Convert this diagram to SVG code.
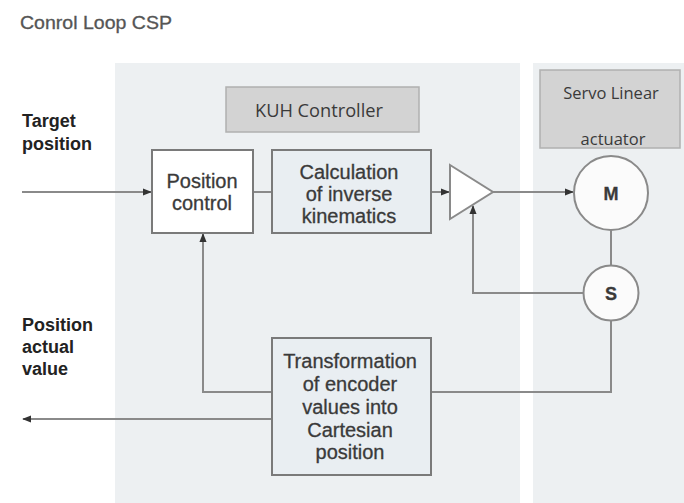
<svg xmlns="http://www.w3.org/2000/svg" width="684" height="503" viewBox="0 0 684 503">
<style>
.t{font-family:"Liberation Sans",Arial,sans-serif;fill:#3a3a3a;stroke:#3a3a3a;stroke-width:0.3}
.o{font-family:"Open Sans","Liberation Sans",sans-serif;fill:#3a3a3a}
.lbl{font-family:"Liberation Sans",Arial,sans-serif;font-weight:bold;font-size:18px;fill:#222}
.box{stroke:#7a7a7a;stroke-width:2}
.hdr{fill:#d3d3d3;stroke:#b0b0b0;stroke-width:1.5}
.ln{fill:none;stroke:#8a8a8a;stroke-width:2}
.c{fill:#fbfbfb;stroke:#8a8a8a;stroke-width:2}
</style>
<defs>
<marker id="ah" viewBox="0 0 10 10" refX="9" refY="5" markerWidth="4.5" markerHeight="4.5" orient="auto-start-reverse" markerUnits="strokeWidth">
<path d="M0,1 L10,5 L0,9 z" fill="#333"/>
</marker>
</defs>
<rect width="684" height="503" fill="#fff"/>
<text x="20" y="29" class="t" font-size="18" style="fill:#555;stroke:#555" textLength="152" lengthAdjust="spacingAndGlyphs">Conrol Loop CSP</text>
<g id="panels">
<rect x="115" y="63" width="405" height="440" fill="#edf0f2"/>
<rect x="533" y="63" width="151" height="440" fill="#edf0f2"/>
</g>
<g id="kuh">
<rect x="226" y="87" width="193" height="45" class="hdr"/>
<text x="255" y="117" class="o" font-size="18" textLength="128" lengthAdjust="spacingAndGlyphs">KUH Controller</text>
</g>
<g id="servo">
<rect x="540" y="70" width="140" height="78" class="hdr"/>
<text x="611" y="99" class="o" font-size="16.5" text-anchor="middle">Servo Linear</text>
<text x="613" y="145" class="o" font-size="16.5" text-anchor="middle">actuator</text>
</g>
<g id="labels">
<text class="lbl"><tspan x="22" y="127">Target</tspan><tspan x="22" y="150">position</tspan></text>
<text class="lbl"><tspan x="22" y="331">Position</tspan><tspan x="22" y="353">actual</tspan><tspan x="22" y="375">value</tspan></text>
</g>
<g id="connectors">
<line x1="22" y1="192" x2="151" y2="192" class="ln" marker-end="url(#ah)"/>
<line x1="253" y1="192" x2="272" y2="192" class="ln"/>
<line x1="431" y1="192" x2="449" y2="192" class="ln" marker-end="url(#ah)"/>
<line x1="493" y1="192" x2="573" y2="192" class="ln" marker-end="url(#ah)"/>
<line x1="611" y1="230" x2="611" y2="266" class="ln"/>
<polyline points="584,293 473,293 473,206" class="ln" marker-end="url(#ah)"/>
<polyline points="611,321 611,392 431,392" class="ln"/>
<polyline points="272,392 203,392 203,234" class="ln" marker-end="url(#ah)"/>
<line x1="272" y1="419" x2="23" y2="419" class="ln" marker-end="url(#ah)"/>
</g>
<g id="position-control">
<rect x="152" y="150" width="101" height="83" fill="#fff" class="box"/>
<text class="t" font-size="20" text-anchor="middle"><tspan x="202" y="188">Position</tspan><tspan x="202" y="210">control</tspan></text>
</g>
<g id="calculation">
<rect x="272" y="150" width="159" height="83" fill="#e9eef2" class="box"/>
<text class="t" font-size="20" text-anchor="middle"><tspan x="349" y="179">Calculation</tspan><tspan x="349" y="201">of inverse</tspan><tspan x="349" y="223">kinematics</tspan></text>
</g>
<g id="amplifier">
<polygon points="450,165 493,192 450,219" fill="#fff" stroke="#8a8a8a" stroke-width="2"/>
</g>
<g id="motor">
<circle cx="611" cy="193" r="37" class="c"/>
<text x="611" y="200" class="t" font-size="18" font-weight="bold" text-anchor="middle">M</text>
</g>
<g id="sensor">
<circle cx="611" cy="293" r="27.5" class="c"/>
<text x="611" y="300" class="t" font-size="18" font-weight="bold" text-anchor="middle">S</text>
</g>
<g id="transformation">
<rect x="272" y="338" width="159" height="137" fill="#e9eef2" class="box"/>
<text class="t" font-size="20" text-anchor="middle"><tspan x="350" y="368">Transformation</tspan><tspan x="350" y="391">of encoder</tspan><tspan x="350" y="414">values into</tspan><tspan x="350" y="437">Cartesian</tspan><tspan x="350" y="459">position</tspan></text>
</g>
</svg>
